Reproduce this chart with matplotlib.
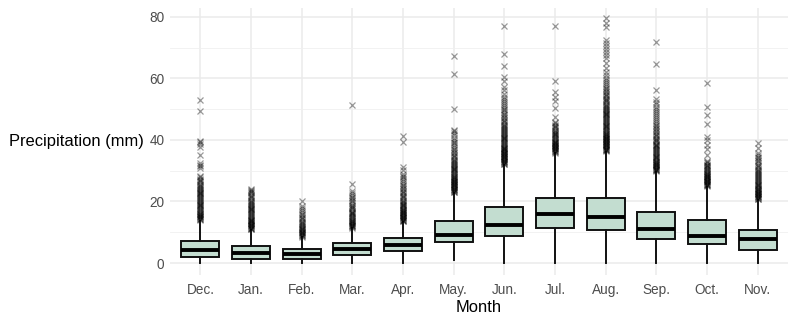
import matplotlib
matplotlib.use("Agg")
import matplotlib.pyplot as plt
from matplotlib.ticker import MultipleLocator

plt.rcParams['font.family'] = ['Liberation Sans', 'DejaVu Sans']

months = ["Dec.", "Jan.", "Feb.", "Mar.", "Apr.", "May.", "Jun.", "Jul.", "Aug.", "Sep.", "Oct.", "Nov."]

whisker_low = [0.0, 0.0, 0.0, 0.0, 0.0, 1.0, 0.0, 0.0, 0.0, 0.0, 0.0, 0.0]
q1 = [2.05, 1.4, 1.4, 2.6, 4.0, 6.7, 8.9, 11.4, 10.7, 7.7, 6.3, 4.2]
median = [4.2, 3.15, 2.8, 4.65, 5.85, 9.2, 12.35, 15.8, 15.0, 10.95, 8.9, 7.7]
q3 = [7.05, 5.5, 4.55, 6.4, 8.0, 13.55, 18.2, 21.2, 21.0, 16.7, 13.9, 10.7]
whisker_high = [13.7, 10.7, 8.45, 11.3, 13.4, 22.9, 31.9, 35.7, 36.2, 29.7, 24.8, 20.5]

out_dec = [14.0, 14.2, 14.4, 14.6, 14.8, 15.0, 15.2, 15.4, 15.6, 15.8, 16.0, 16.3, 16.6, 16.9,
           17.2, 17.5, 17.8, 18.1, 18.4, 18.7, 19.0, 19.3, 19.6, 19.9, 20.2, 20.5, 20.8, 21.1,
           21.4, 21.7, 22.0, 22.3, 22.6, 22.9, 23.2, 23.5, 23.8, 24.1, 24.4, 24.7, 25.0, 25.4,
           25.8, 26.2, 26.6, 27.0, 27.4, 27.8, 28.2, 30.8, 31.6, 32.0, 32.6, 35.1, 37.8, 38.6,
           39.4, 39.8, 49.4, 53.0]
out_jan = [10.9, 11.1, 11.3, 11.5, 11.7, 11.9, 12.1, 12.3, 12.5, 12.7, 12.9, 13.1, 13.3, 13.5,
           13.7, 13.9, 14.1, 14.4, 14.7, 15.0, 15.3, 15.6, 15.9, 16.2, 16.5, 16.8, 17.1, 17.4,
           17.7, 18.0, 18.3, 18.6, 18.9, 19.2, 19.5, 19.8, 20.2, 20.6, 21.0, 21.4, 21.8, 22.2,
           22.6, 23.0, 23.4, 23.8, 24.2]
out_feb = [8.6, 8.8, 9.0, 9.2, 9.4, 9.6, 9.8, 10.0, 10.2, 10.4, 10.6, 10.9, 11.2, 11.5, 11.8,
           12.1, 12.4, 12.7, 13.0, 13.4, 13.8, 14.2, 14.6, 15.0, 15.5, 16.0, 16.6, 17.2, 17.8,
           18.5, 20.3]
out_mar = [11.5, 11.7, 11.9, 12.1, 12.3, 12.5, 12.7, 12.9, 13.1, 13.3, 13.5, 13.7, 14.0, 14.3,
           14.6, 14.9, 15.2, 15.5, 15.8, 16.1, 16.4, 16.7, 17.0, 17.4, 17.8, 18.2, 18.6, 19.0,
           19.5, 20.0, 20.5, 21.0, 21.6, 22.2, 22.8, 23.4, 25.7, 51.3]
out_apr = [13.5, 13.7, 13.9, 14.1, 14.3, 14.5, 14.7, 14.9, 15.1, 15.3, 15.5, 15.7, 15.9, 16.1,
           16.3, 16.5, 16.7, 16.9, 17.1, 17.3, 17.5, 17.8, 18.1, 18.4, 18.7, 19.0, 19.3, 19.6,
           19.9, 20.2, 20.6, 21.0, 21.4, 21.8, 22.2, 22.6, 23.0, 23.5, 24.0, 24.5, 25.0, 25.5,
           26.0, 26.6, 27.2, 27.8, 28.4, 29.0, 30.2, 31.3, 39.2, 41.4]
out_may = [23.0, 23.2, 23.4, 23.6, 23.8, 24.0, 24.2, 24.4, 24.6, 24.8, 25.0, 25.2, 25.4, 25.6,
           25.8, 26.0, 26.2, 26.4, 26.6, 26.8, 27.0, 27.2, 27.4, 27.6, 27.8, 28.0, 28.3, 28.6,
           28.9, 29.2, 29.5, 29.8, 30.1, 30.4, 30.7, 31.0, 31.3, 31.6, 31.9, 32.2, 32.5, 32.8,
           33.1, 33.5, 33.9, 34.3, 34.7, 35.1, 35.6, 36.1, 36.6, 37.1, 37.7, 38.3, 38.9, 39.5,
           40.1, 40.8, 41.5, 42.2, 42.8, 43.4, 50.0, 61.5, 67.4]
out_jun = [32.1, 32.3, 32.5, 32.7, 32.9, 33.1, 33.3, 33.5, 33.7, 33.9, 34.1, 34.3, 34.5, 34.7,
           34.9, 35.1, 35.3, 35.5, 35.7, 35.9, 36.1, 36.3, 36.5, 36.7, 36.9, 37.1, 37.3, 37.5,
           37.8, 38.1, 38.4, 38.7, 39.0, 39.3, 39.6, 39.9, 40.2, 40.5, 40.8, 41.1, 41.4, 41.7,
           42.0, 42.3, 42.6, 42.9, 43.2, 43.5, 43.8, 44.1, 44.5, 44.9, 45.3, 45.7, 46.1, 46.5,
           47.0, 47.5, 48.0, 48.5, 49.0, 49.6, 50.2, 50.8, 51.4, 52.0, 52.6, 53.3, 54.0, 55.0,
           56.2, 57.3, 59.2, 60.6, 64.0, 67.9, 77.2]
out_jul = [35.9, 36.1, 36.3, 36.5, 36.7, 36.9, 37.1, 37.3, 37.5, 37.7, 37.9, 38.1, 38.3, 38.5,
           38.7, 38.9, 39.1, 39.3, 39.5, 39.7, 40.0, 40.3, 40.6, 40.9, 41.2, 41.5, 41.8, 42.1,
           42.4, 42.7, 43.0, 43.4, 43.8, 44.2, 44.6, 45.0, 45.5, 46.0, 47.4, 50.5, 52.7, 54.1,
           55.6, 59.2, 76.9]
out_aug = [36.4, 36.6, 36.8, 37.0, 37.2, 37.4, 37.6, 37.8, 38.0, 38.2, 38.4, 38.6, 38.8, 39.0,
           39.2, 39.4, 39.6, 39.8, 40.0, 40.2, 40.4, 40.6, 40.8, 41.0, 41.2, 41.4, 41.6, 41.8,
           42.0, 42.3, 42.6, 42.9, 43.2, 43.5, 43.8, 44.1, 44.4, 44.7, 45.0, 45.3, 45.6, 45.9,
           46.2, 46.5, 46.8, 47.1, 47.4, 47.7, 48.0, 48.3, 48.6, 48.9, 49.2, 49.5, 49.8, 50.1,
           50.4, 50.7, 51.0, 51.4, 51.8, 52.2, 52.6, 53.0, 53.4, 53.8, 54.2, 54.6, 55.0, 55.5,
           56.0, 56.5, 57.0, 57.6, 58.2, 58.8, 59.5, 60.2, 61.0, 62.0, 63.5, 65.0, 66.5, 67.5,
           68.5, 69.5, 70.5, 71.5, 72.5, 76.6, 78.0, 79.6]
out_sep = [29.9, 30.1, 30.3, 30.5, 30.7, 30.9, 31.1, 31.3, 31.5, 31.7, 31.9, 32.1, 32.3, 32.5,
           32.7, 32.9, 33.1, 33.4, 33.7, 34.0, 34.3, 34.6, 34.9, 35.2, 35.5, 35.8, 36.1, 36.4,
           36.7, 37.0, 37.3, 37.6, 37.9, 38.2, 38.5, 38.8, 39.2, 39.6, 40.0, 40.4, 40.8, 41.2,
           41.6, 42.0, 42.5, 43.0, 43.5, 44.0, 44.5, 45.0, 45.6, 46.2, 46.8, 47.4, 48.0, 48.7,
           49.4, 50.1, 50.8, 51.6, 52.4, 53.2, 56.3, 64.7, 71.8]
out_oct = [25.0, 25.2, 25.4, 25.6, 25.8, 26.0, 26.2, 26.4, 26.6, 26.8, 27.0, 27.2, 27.4, 27.6,
           27.8, 28.0, 28.2, 28.4, 28.6, 28.8, 29.0, 29.3, 29.6, 29.9, 30.2, 30.5, 30.8, 31.1,
           31.4, 31.7, 32.0, 32.4, 32.8, 33.3, 35.1, 37.0, 38.3, 40.0, 41.1, 45.2, 48.0, 50.8,
           58.6]
out_nov = [20.7, 20.9, 21.1, 21.3, 21.5, 21.7, 21.9, 22.1, 22.3, 22.5, 22.7, 22.9, 23.1, 23.3,
           23.5, 23.7, 23.9, 24.1, 24.3, 24.6, 24.9, 25.2, 25.5, 25.8, 26.1, 26.4, 26.7, 27.0,
           27.3, 27.6, 27.9, 28.2, 28.5, 28.8, 29.1, 29.5, 29.9, 30.3, 30.7, 31.1, 31.5, 32.0,
           32.5, 33.0, 33.5, 34.0, 34.6, 35.2, 35.7, 37.5, 39.1]
outliers = [out_dec, out_jan, out_feb, out_mar, out_apr, out_may,
            out_jun, out_jul, out_aug, out_sep, out_oct, out_nov]

stats = []
for i, m in enumerate(months):
    stats.append(dict(label=m, whislo=whisker_low[i], q1=q1[i], med=median[i],
                      q3=q3[i], whishi=whisker_high[i], fliers=outliers[i]))

fig = plt.figure(figsize=(7.97, 3.24), dpi=100)
ax = fig.add_axes([170 / 797, 1 - 275 / 324, 618 / 797, 267 / 324])

positions = list(range(1, len(months) + 1))
ax.bxp(stats, positions=positions, widths=0.75, patch_artist=True, showcaps=False,
       boxprops=dict(facecolor='#c3ddd0', edgecolor='#111111', linewidth=1.4),
       medianprops=dict(color='black', linewidth=2.8, solid_capstyle='butt'),
       whiskerprops=dict(color='#111111', linewidth=1.4),
       flierprops=dict(marker='x', markersize=5, markeredgewidth=0.9,
                       markeredgecolor=(0, 0, 0, 0.4), linestyle='none'),
       zorder=3)

ax.set_xlim(0.4, 12.6)
ax.set_ylim(-3.9, 82.9)
ax.yaxis.set_major_locator(MultipleLocator(20))
ax.yaxis.set_minor_locator(MultipleLocator(10))
ax.set_xticks(positions)
ax.set_xticklabels(months)

ax.grid(which='major', color='#ebebeb', linewidth=1.1, zorder=0)
ax.grid(which='minor', axis='y', color='#f0f0f0', linewidth=0.6, zorder=0)
ax.set_axisbelow(True)
for s in ax.spines.values():
    s.set_visible(False)
ax.tick_params(which='both', length=0, labelsize=9.8, labelcolor='#4d4d4d', pad=4)
ax.tick_params(axis='x', pad=6)

ax.set_xlabel("Month", fontsize=11.9, color='black', labelpad=2)
ax.set_ylabel("Precipitation (mm)", fontsize=11.9, color='black', rotation=0,
              ha='right', va='center', labelpad=4)

fig.savefig("out.png", dpi=100)
